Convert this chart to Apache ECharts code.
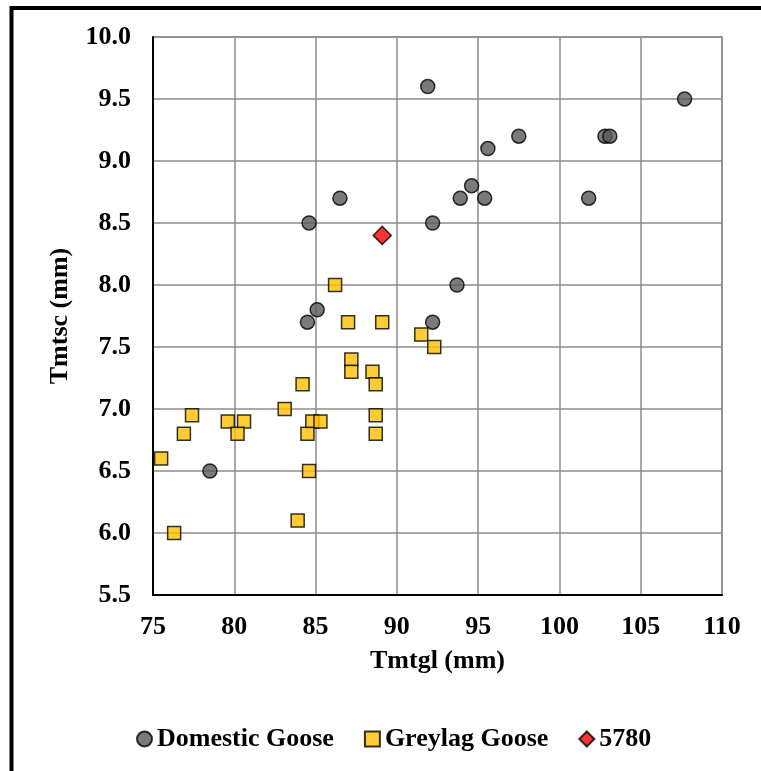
<!DOCTYPE html>
<html>
<head>
<meta charset="utf-8">
<script src="https://cdn.jsdelivr.net/npm/echarts@6/dist/echarts.min.js"></script>
<style>
html,body{margin:0;padding:0;background:#fff;}
#chart{width:761px;height:771px;}
</style>
</head>
<body>
<div id="chart"></div>
<script>
const domesticX = [91.9, 86.5, 84.6, 92.2, 85.1, 84.5, 92.2, 107.7, 97.5, 95.6, 102.8, 103.1, 94.6, 93.9, 95.4, 101.8, 93.7, 78.5];
const domesticY = [9.6, 8.7, 8.5, 8.5, 7.8, 7.7, 7.7, 9.5, 9.2, 9.1, 9.2, 9.2, 8.8, 8.7, 8.7, 8.7, 8.0, 6.5];
const greylagX = [86.2, 87.0, 89.1, 91.5, 92.3, 87.2, 87.2, 88.5, 88.7, 84.2, 83.1, 77.4, 79.6, 80.6, 84.8, 85.3, 88.7, 76.9, 80.2, 84.5, 88.7, 75.5, 84.6, 83.9, 76.3];
const greylagY = [8.0, 7.7, 7.7, 7.6, 7.5, 7.4, 7.3, 7.3, 7.2, 7.2, 7.0, 6.95, 6.9, 6.9, 6.9, 6.9, 6.95, 6.8, 6.8, 6.8, 6.8, 6.6, 6.5, 6.1, 6.0];
const specimenX = [89.1];
const specimenY = [8.4];
const seriesNames = ['Domestic Goose', 'Greylag Goose', '5780'];
const xTitle = 'Tmtgl (mm)';
const yTitle = 'Tmtsc (mm)';

const zip = (xs, ys) => xs.map((x, i) => [x, ys[i]]);
const font = 'Liberation Serif, Times New Roman, serif';

const chart = echarts.init(document.getElementById('chart'));
chart.setOption({
  animation: false,
  backgroundColor: '#fff',
  graphic: [{
    type: 'rect',
    shape: {x: 11.5, y: 8, width: 900, height: 900},
    style: {fill: 'none', stroke: '#000', lineWidth: 4},
    z: 100
  }],
  grid: {left: 153, right: 39, top: 37, bottom: 176, show: true, borderColor: '#8c8c8c', borderWidth: 1.5},
  legend: {
    data: seriesNames.map(n => ({name: n})),
    left: 131,
    top: 721,
    itemGap: 30,
    itemWidth: 15,
    itemHeight: 15,
    textStyle: {fontFamily: font, fontWeight: 'bold', fontSize: 26, color: '#000'}
  },
  xAxis: {
    type: 'value', min: 75, max: 110, interval: 5,
    name: xTitle, nameLocation: 'middle', nameGap: 53,
    nameTextStyle: {fontFamily: font, fontWeight: 'bold', fontSize: 26, color: '#000'},
    axisLine: {show: true, onZero: false, lineStyle: {color: '#000', width: 2}},
    axisTick: {show: false},
    axisLabel: {fontFamily: font, fontWeight: 'bold', fontSize: 26, color: '#000', margin: 19},
    splitLine: {show: true, lineStyle: {color: '#8c8c8c', width: 1.5}}
  },
  yAxis: {
    type: 'value', min: 5.5, max: 10, interval: 0.5,
    name: yTitle, nameLocation: 'middle', nameGap: 80,
    nameTextStyle: {fontFamily: font, fontWeight: 'bold', fontSize: 26, color: '#000'},
    axisLine: {show: true, onZero: false, lineStyle: {color: '#000', width: 2}},
    axisTick: {show: false},
    axisLabel: {fontFamily: font, fontWeight: 'bold', fontSize: 26, color: '#000', margin: 22,
      formatter: v => v.toFixed(1)},
    splitLine: {show: true, lineStyle: {color: '#8c8c8c', width: 1.5}}
  },
  series: [
    {
      name: seriesNames[0], type: 'scatter', symbol: 'circle', symbolSize: 14,
      data: zip(domesticX, domesticY),
      itemStyle: {color: '#595959', borderColor: '#000', borderWidth: 1.5}
    },
    {
      name: seriesNames[1], type: 'scatter', symbol: 'rect', symbolSize: 13,
      data: zip(greylagX, greylagY),
      itemStyle: {color: '#FFC000', borderColor: '#000', borderWidth: 1.5}
    },
    {
      name: seriesNames[2], type: 'scatter', symbol: 'diamond', symbolSize: 18,
      data: zip(specimenX, specimenY),
      itemStyle: {color: '#FF0000', borderColor: '#000', borderWidth: 1.5}
    }
  ]
});
</script>
</body>
</html>
